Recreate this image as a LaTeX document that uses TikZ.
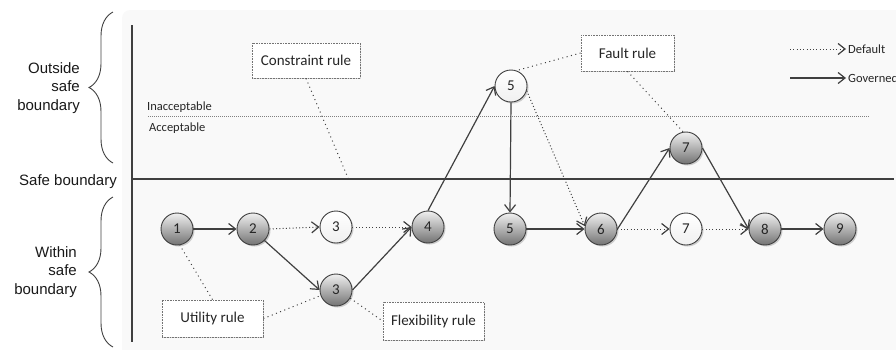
\documentclass[tikz,border=0pt]{standalone}
\usepackage{fontspec}
\setmainfont{Carlito}
\newfontfamily\labelfont{Liberation Sans}
\usetikzlibrary{arrows.meta,shadows,decorations.pathreplacing}
\definecolor{panel}{RGB}{249,249,249}
\definecolor{ink}{RGB}{64,64,64}
\tikzset{
  state/.style={circle, minimum size=32pt, inner sep=0pt, draw=ink, line width=0.9pt,
    font=\fontsize{15}{17}\selectfont, text=black!85,
    drop shadow={shadow xshift=1.5pt, shadow yshift=-1.5pt, opacity=0.18, fill=black}},
  active/.style={state, top color=black!6, bottom color=black!55},
  idle/.style={state, top color=white, bottom color=black!6},
  rulebox/.style={draw=black!55, dash pattern=on 0.8pt off 0.8pt, line width=0.8pt,
    fill=white, font=\fontsize{15}{17}\selectfont, text=black!85, inner sep=0pt,
    drop shadow={shadow xshift=1pt, shadow yshift=-1pt, opacity=0.12, fill=black}},
  tip/.style={-{Straight Barb[length=7pt,width=11pt,line width=1.2pt]}},
  governed/.style={tip, draw=ink, line width=1.2pt},
  byDefault/.style={tip, draw=ink, line width=1pt, dash pattern=on 1pt off 2.3pt},
  ruleLink/.style={draw=black!75, line width=1pt, dash pattern=on 1pt off 3.5pt},
  smalltext/.style={font=\fontsize{12.5}{14}\selectfont, text=black!85, inner sep=0pt},
  sidetext/.style={font=\labelfont\fontsize{15}{18.5}\selectfont, text=black!90,
    align=right, inner sep=0pt},
  bracestyle/.style={decorate, decoration={brace, amplitude=24pt}, draw=ink, line width=0.9pt}
}
\begin{document}
\begin{tikzpicture}[x=1pt, y=-1pt]
  \useasboundingbox (0,0) rectangle (896,349);
  % background panel
  \fill[panel, rounded corners=8pt] (122,10) rectangle (910,360);

  % axes: vertical edge and safe boundary
  \coordinate (axtop) at (132,25);
  \coordinate (axbot) at (132,342);
  \coordinate (sbl) at (132,179);
  \coordinate (sbr) at (894,179);
  \draw[ink, line width=1.1pt] (axtop) -- (axbot);
  \draw[ink, line width=1.1pt] (sbl) -- (sbr);

  % acceptability threshold
  \coordinate (accl) at (148,116.5);
  \coordinate (accr) at (869,116.5);
  \draw[black!50, line width=1.8pt, dash pattern=on 1pt off 1pt] (accl) -- (accr);
  \node[smalltext, anchor=base west] (inacc) at (147,110) {Inacceptable};
  \node[smalltext, anchor=base west] (acc) at (149,131) {Acceptable};

  % side labels and braces
  \node[sidetext, anchor=east] (outside) at (80,88) {Outside\\safe\\boundary};
  \node[sidetext, anchor=east] (safe) at (117,182) {Safe boundary};
  \node[sidetext, anchor=east] (within) at (77,272) {Within\\safe\\boundary};
  \coordinate (bt1) at (113,163);
  \coordinate (bt2) at (113,12);
  \coordinate (bb1) at (113,347);
  \coordinate (bb2) at (113,197);
  \draw[bracestyle] (bt1) -- (bt2);
  \draw[bracestyle] (bb1) -- (bb2);

  % states
  \node[active] (n1) at (177,229) {1};
  \node[active] (n2) at (253,229) {2};
  \node[idle]   (n3w) at (336,227) {3};
  \node[active] (n3g) at (336,290) {3};
  \node[active] (n4) at (428,227) {4};
  \node[idle]   (n5w) at (511,86) {5};
  \node[active] (n5g) at (510,229) {5};
  \node[active] (n6) at (601,229) {6};
  \node[active] (n7g) at (686,148) {7};
  \node[idle]   (n7w) at (686,229) {7};
  \node[active] (n8) at (765,229) {8};
  \node[active] (n9) at (840,229) {9};

  % rules
  \node[rulebox, minimum width=108pt, minimum height=35pt] (constraint) at (306,60.5) {Constraint rule};
  \node[rulebox, minimum width=93pt, minimum height=36pt] (fault) at (627.5,53) {Fault rule};
  \node[rulebox, minimum width=101pt, minimum height=37pt] (utility) at (212.5,318.5) {Utility rule};
  \node[rulebox, minimum width=101pt, minimum height=38pt] (flex) at (433.5,321) {Flexibility rule};

  % rule links
  \coordinate (climit) at (348,178);
  \draw[ruleLink] (constraint.south) -- (climit);
  \draw[ruleLink] (fault.west) -- (n5w.70);
  \draw[ruleLink] (fault.south) -- (n7g.100);
  \draw[ruleLink] (utility.north) -- (n1.-80);
  \draw[ruleLink] (utility.east) -- (n3g.200);
  \draw[ruleLink] (n3g.-30) -- (flex.west);

  % governed transitions
  \draw[governed] (n1) -- (n2);
  \draw[governed] (n2.south east) -- (n3g.west);
  \draw[governed] (n3g.east) -- (n4.west);
  \draw[governed] (n4.north) -- (n5w.west);
  \draw[governed] (n5w.south) -- (n5g.north);
  \draw[governed] (n5g) -- (n6);
  \draw[governed] (n6.east) -- (n7g.west);
  \draw[governed] (n7g.east) -- (n8.west);
  \draw[governed] (n8) -- (n9);

  % default transitions
  \draw[byDefault] (n2.east) -- (n3w.west);
  \draw[byDefault] (n3w.east) -- (n4.west);
  \draw[byDefault] (n5w.-17) -- (n6.170);
  \draw[byDefault] (n6.east) -- (n7w.west);
  \draw[byDefault] (n7w.east) -- (n8.west);

  % legend
  \node[smalltext, anchor=west] (ldef) at (848,49) {Default};
  \node[smalltext, anchor=west] (lgov) at (848,78) {Governed};
  \coordinate (ld0) at (790,49);
  \coordinate (lg0) at (790,78);
  \draw[byDefault, shorten >=2pt] (ld0) -- (ldef.west);
  \draw[governed, shorten >=2pt] (lg0) -- (lgov.west);
\end{tikzpicture}
\end{document}
